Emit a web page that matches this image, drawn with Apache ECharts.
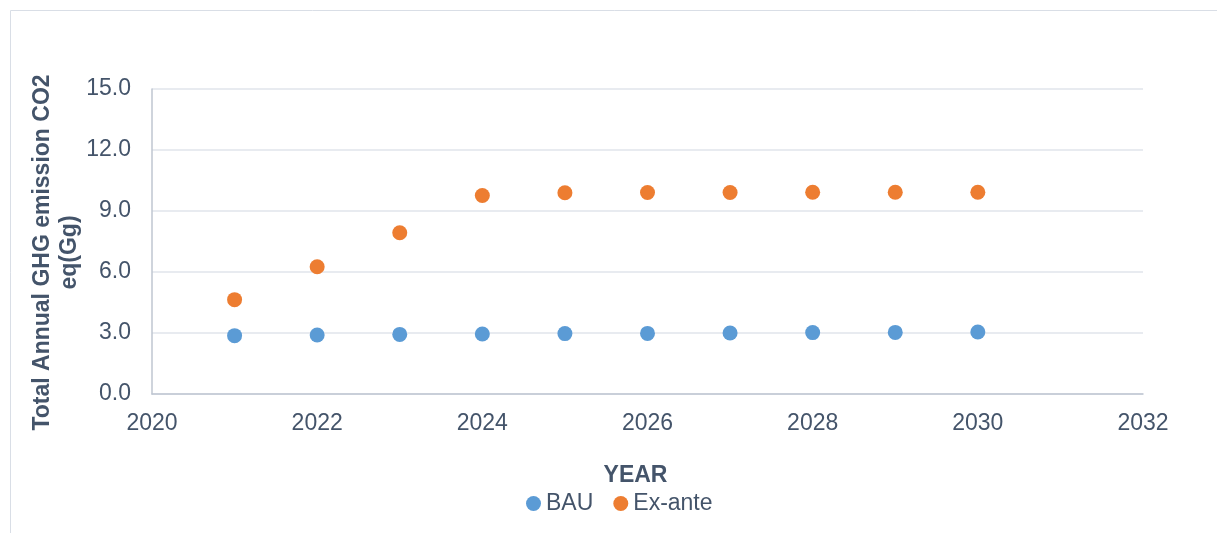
<!DOCTYPE html>
<html>
<head>
<meta charset="utf-8">
<script src="https://cdn.jsdelivr.net/npm/echarts@6/dist/echarts.min.js"></script>
<style>
  html, body { margin: 0; padding: 0; background: #ffffff; }
  #chart { width: 1217px; height: 533px; }
</style>
</head>
<body>
<div id="chart"></div>
<script>
// Years on the horizontal axis
const years = [2021, 2022, 2023, 2024, 2025, 2026, 2027, 2028, 2029, 2030];
// Business-as-usual emissions, Gg CO2 eq
const bau = [2.87, 2.90, 2.93, 2.95, 2.97, 2.98, 3.00, 3.02, 3.03, 3.05];
// Ex-ante emissions, Gg CO2 eq
const exAnte = [4.64, 6.26, 7.93, 9.76, 9.90, 9.91, 9.91, 9.92, 9.92, 9.92];
const seriesNames = ['BAU', 'Ex-ante'];

const textColor = '#44546A';
const font = 'Liberation Sans, Arial, sans-serif';

const chart = echarts.init(document.getElementById('chart'), null, { renderer: 'canvas' });

chart.setOption({
  animation: false,
  backgroundColor: '#ffffff',
  textStyle: { fontFamily: font },
  graphic: [{
    type: 'rect',
    shape: { x: 10.5, y: 10.5, width: 1400, height: 700 },
    style: { fill: 'none', stroke: '#D9DEE6', lineWidth: 1 },
    silent: true
  }],
  grid: { left: 152, right: 74, top: 89, bottom: 139 },
  legend: {
    data: seriesNames,
    bottom: 13,
    left: 521,
    icon: 'circle',
    itemWidth: 15,
    itemHeight: 15,
    itemGap: 20,
    textStyle: { color: textColor, fontSize: 23, fontFamily: font }
  },
  xAxis: {
    type: 'value',
    min: 2020,
    max: 2032,
    interval: 2,
    name: 'YEAR',
    nameLocation: 'middle',
    nameGap: 70,
    nameTextStyle: { color: textColor, fontSize: 23, fontWeight: 'bold', fontFamily: font, padding: [0, 24, 0, 0] },
    axisLine: { show: true, lineStyle: { color: '#BFC6D1', width: 1.5 } },
    axisTick: { show: false },
    splitLine: { show: false },
    axisLabel: { color: textColor, fontSize: 23, fontFamily: font, margin: 18, formatter: v => String(v) }
  },
  yAxis: {
    type: 'value',
    min: 0,
    max: 15,
    interval: 3,
    name: 'Total Annual GHG emission CO2\neq(Gg)',
    nameLocation: 'middle',
    nameRotate: 90,
    nameGap: 69,
    nameMoveOverlap: false,
    nameTextStyle: {
      color: textColor, fontSize: 23, fontWeight: 'bold', fontFamily: font,
      lineHeight: 27, padding: [0, 22, 0, 0]
    },
    axisLine: { show: true, lineStyle: { color: '#BFC6D1', width: 1.5 } },
    axisTick: { show: false },
    splitLine: { show: true, lineStyle: { color: '#E1E5EB', width: 1.5 } },
    axisLabel: {
      color: textColor, fontSize: 23, fontFamily: font, margin: 21,
      formatter: v => v.toFixed(1)
    }
  },
  series: [
    {
      name: seriesNames[0],
      type: 'scatter',
      symbol: 'circle',
      symbolSize: 15,
      itemStyle: { color: '#5B9BD5', opacity: 1 },
      data: years.map((y, i) => [y, bau[i]])
    },
    {
      name: seriesNames[1],
      type: 'scatter',
      symbol: 'circle',
      symbolSize: 15,
      itemStyle: { color: '#ED7D31', opacity: 1 },
      data: years.map((y, i) => [y, exAnte[i]])
    }
  ]
});
</script>
</body>
</html>
